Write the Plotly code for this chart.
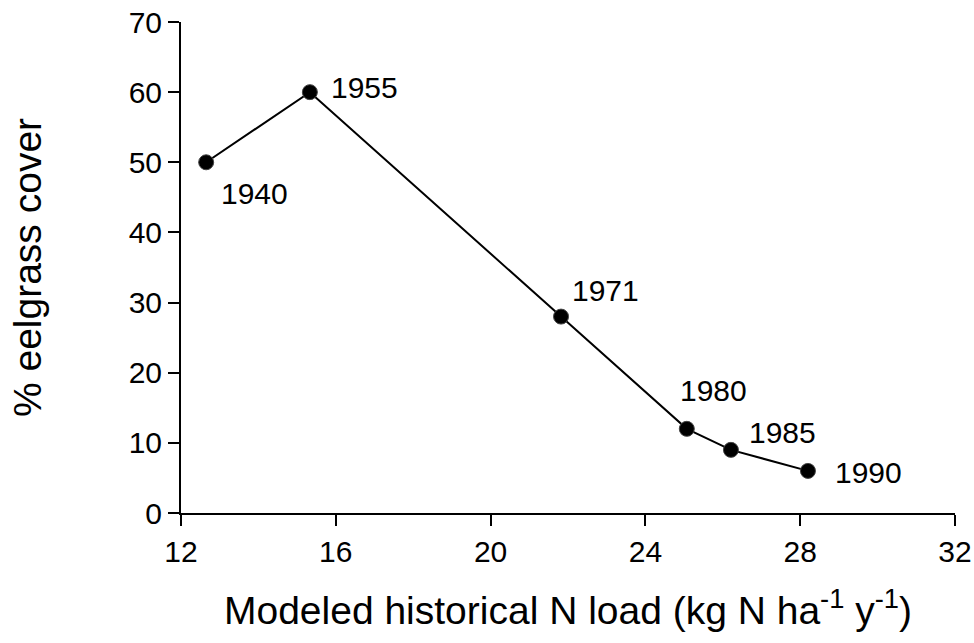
import plotly.graph_objects as go

years = ["1940", "1955", "1971", "1980", "1985", "1990"]
n_load = [12.65, 15.33, 21.82, 25.07, 26.21, 28.2]
eelgrass = [50, 60, 28, 12, 9, 6]

label_dx = [48, 55, 44, 27, 52, 61]
label_dy = [-31, 5, 26, 38, 17, -2]

FONT = "Arial, Liberation Sans, sans-serif"

fig = go.Figure()
fig.add_trace(go.Scatter(
    x=n_load, y=eelgrass, mode="lines+markers",
    line=dict(color="black", width=2),
    marker=dict(color="black", size=15, line=dict(color="#444", width=1)),
    showlegend=False, cliponaxis=False,
))

for yr, x, y, dx, dy in zip(years, n_load, eelgrass, label_dx, label_dy):
    fig.add_annotation(x=x, y=y, text=yr, showarrow=False,
                       xshift=dx, yshift=dy,
                       font=dict(family=FONT, size=30, color="black"))

fig.update_layout(
    width=974, height=643,
    margin=dict(l=181, r=19, t=22, b=130),
    paper_bgcolor="white", plot_bgcolor="white",
    font=dict(family=FONT, size=30, color="black"),
)
fig.update_xaxes(
    range=[12, 32], tickvals=[12, 16, 20, 24, 28, 32],
    showline=True, linecolor="black", linewidth=2,
    ticks="outside", ticklen=11, tickwidth=2, tickcolor="black",
    showgrid=False, zeroline=False, automargin=False,
    tickfont=dict(size=30),
    title=dict(text="Modeled historical N load (kg N ha<sup>-1</sup> y<sup>-1</sup>)",
               font=dict(size=39), standoff=30),
)
fig.update_yaxes(
    range=[0, 70], tickvals=[0, 10, 20, 30, 40, 50, 60, 70],
    showline=True, linecolor="black", linewidth=2,
    ticks="outside", ticklen=11, tickwidth=2, tickcolor="black",
    showgrid=False, zeroline=False, automargin=False,
    tickfont=dict(size=30),
    title=dict(text="% eelgrass cover", font=dict(size=39), standoff=75),
)

fig.write_html("out.html")
